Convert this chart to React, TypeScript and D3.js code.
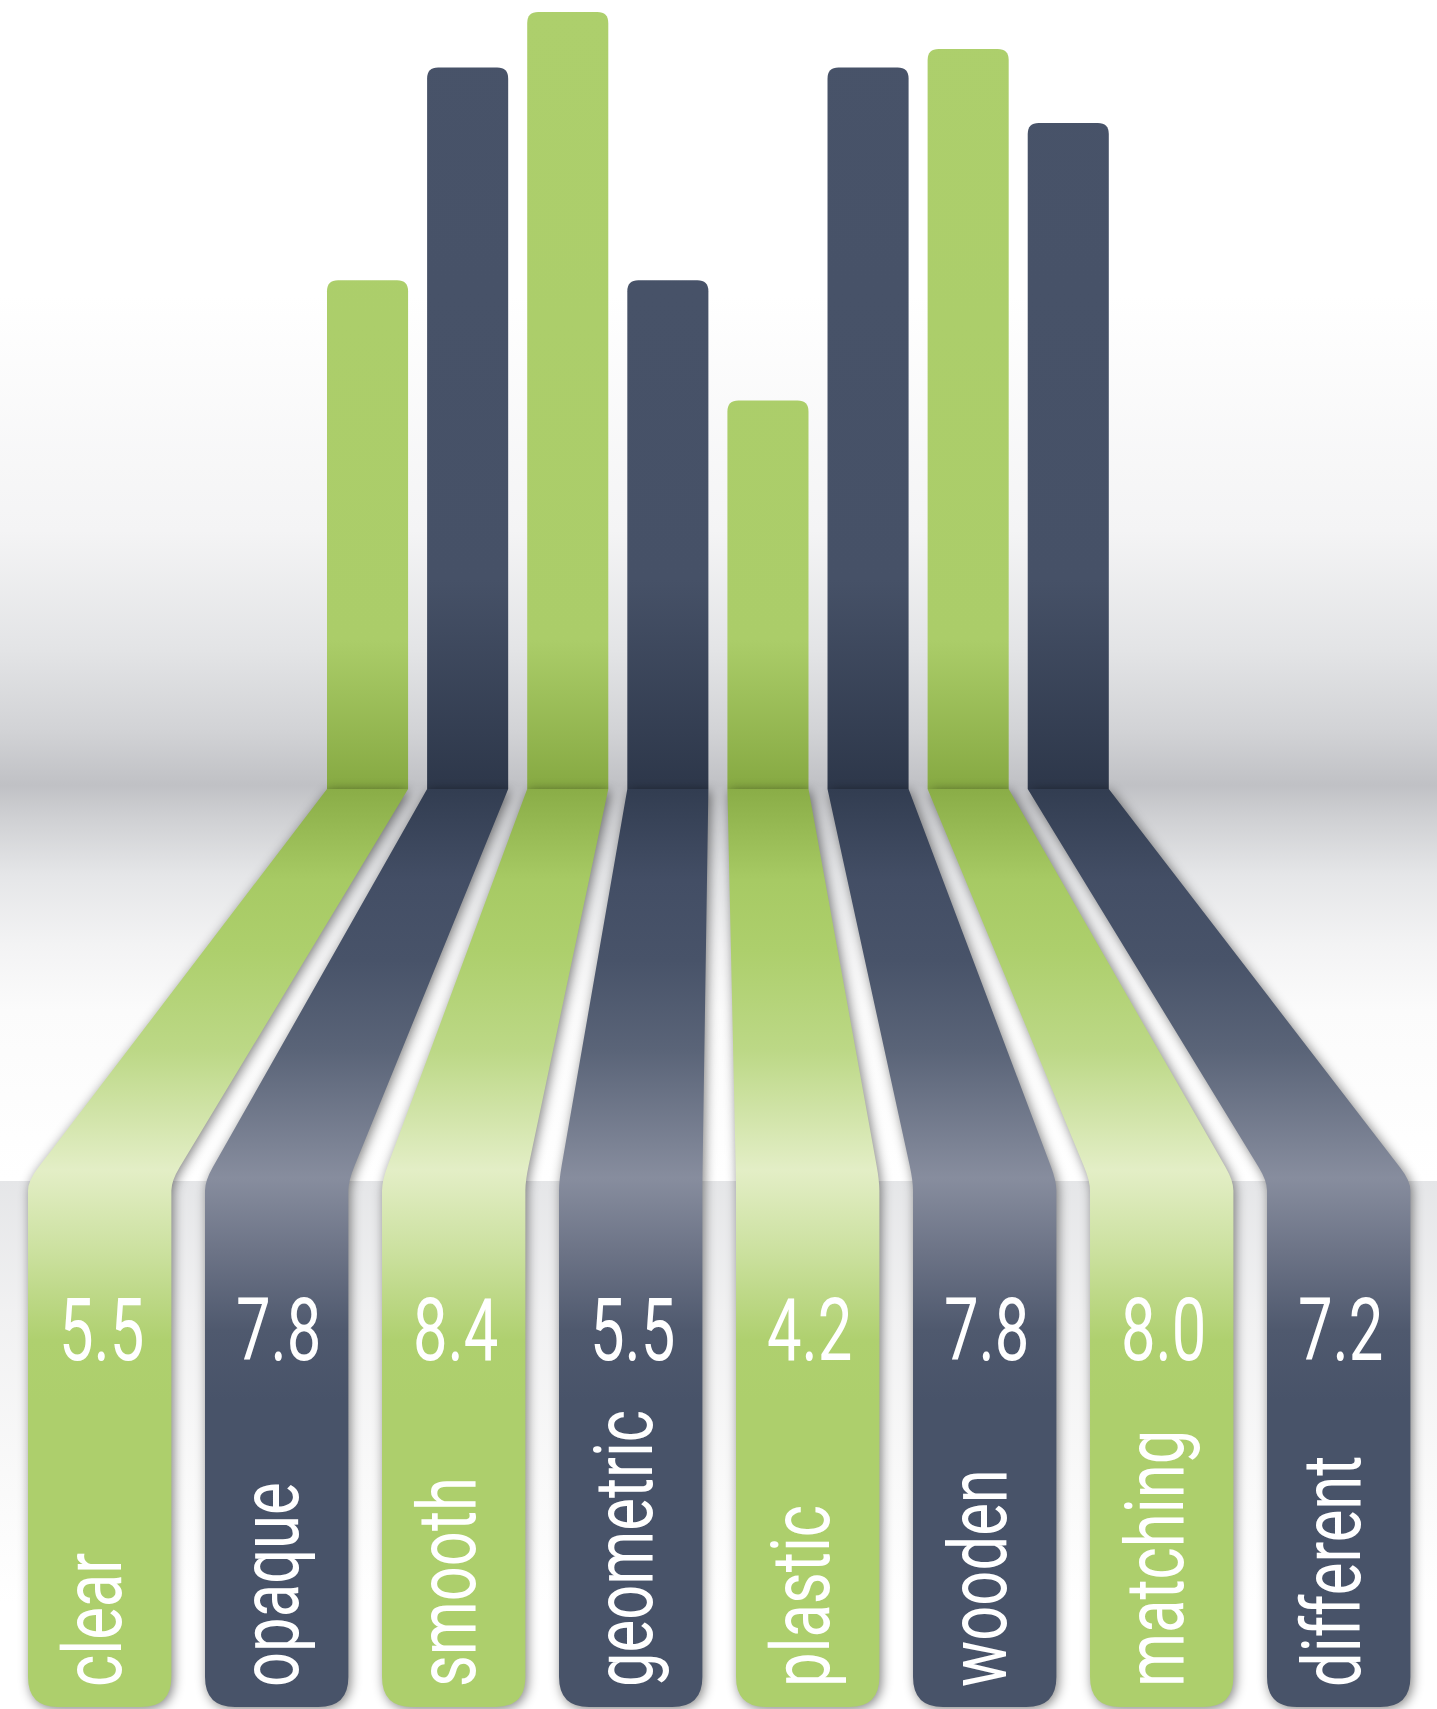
import React from "react";
import * as d3 from "d3";

const categories = ["clear", "opaque", "smooth", "geometric", "plastic", "wooden", "matching", "different"];
const values = [5.5, 7.8, 8.4, 5.5, 4.2, 7.8, 8.0, 7.2];
const seriesOf = ["green", "navy", "green", "navy", "green", "navy", "green", "navy"];
const valueLabels = ["5.5", "7.8", "8.4", "5.5", "4.2", "7.8", "8.0", "7.2"];

const W = 1437;
const H = 1709;
const BASE_Y = 789;
const FLOOR_Y = 1181;
const TAB_BOTTOM = 1707;

export default function App() {
  const xTop = d3.scaleBand<string>().domain(categories).range([327, 1108.8]).paddingInner(0.19).paddingOuter(0);
  const xTab = d3.scaleBand<string>().domain(categories).range([28, 1410.4]).paddingInner(0.19).paddingOuter(0);
  const y = d3.scaleLinear().domain([0, 8.4]).range([BASE_Y, 12]);

  const topBar = (x0: number, x1: number, yt: number) => {
    const r = 11;
    const p = d3.path();
    p.moveTo(x0, BASE_Y);
    p.lineTo(x0, yt + r);
    p.quadraticCurveTo(x0, yt, x0 + r, yt);
    p.lineTo(x1 - r, yt);
    p.quadraticCurveTo(x1, yt, x1, yt + r);
    p.lineTo(x1, BASE_Y);
    p.closePath();
    return p.toString();
  };

  const ribbon = (xu0: number, xu1: number, xl0: number, xl1: number) => {
    const k = 16;
    const r = 30;
    const back = (xa: number, xb: number) => {
      const dx = xb - xa;
      const dy = FLOOR_Y - BASE_Y;
      const len = Math.hypot(dx, dy);
      return [xb - (dx / len) * k, FLOOR_Y - (dy / len) * k];
    };
    const [lx, ly] = back(xu0, xl0);
    const [rx, ry] = back(xu1, xl1);
    const p = d3.path();
    p.moveTo(xu0, BASE_Y);
    p.lineTo(lx, ly);
    p.quadraticCurveTo(xl0, FLOOR_Y, xl0, FLOOR_Y + k * 0.6);
    p.lineTo(xl0, TAB_BOTTOM - r);
    p.quadraticCurveTo(xl0, TAB_BOTTOM, xl0 + r, TAB_BOTTOM);
    p.lineTo(xl1 - r, TAB_BOTTOM);
    p.quadraticCurveTo(xl1, TAB_BOTTOM, xl1, TAB_BOTTOM - r);
    p.lineTo(xl1, FLOOR_Y + k * 0.6);
    p.quadraticCurveTo(xl1, FLOOR_Y, rx, ry);
    p.lineTo(xu1, BASE_Y);
    p.closePath();
    return p.toString();
  };

  const font = "Roboto, 'Liberation Sans', sans-serif";
  const ribbons = categories.map((c, i) => {
    const xu0 = xTop(c)!;
    const xu1 = xu0 + xTop.bandwidth();
    const xl0 = xTab(c)!;
    const xl1 = xl0 + xTab.bandwidth();
    return { c, i, xu0, xu1, xl0, xl1, s: seriesOf[i] };
  });

  const g = (offsetY: number) => (offsetY - BASE_Y) / (H - BASE_Y);

  return (
    <svg width={W} height={H} style={{ position: "absolute", left: 0, top: 0, display: "block" }}>
      <defs>
        <linearGradient id="bgTop" gradientUnits="userSpaceOnUse" x1="0" y1="0" x2="0" y2={FLOOR_Y}>
          <stop offset={0} stopColor="#ffffff" />
          <stop offset={295 / FLOOR_Y} stopColor="#ffffff" />
          <stop offset={530 / FLOOR_Y} stopColor="#f4f4f5" />
          <stop offset={650 / FLOOR_Y} stopColor="#e3e4e6" />
          <stop offset={730 / FLOOR_Y} stopColor="#d2d3d6" />
          <stop offset={785 / FLOOR_Y} stopColor="#c0c1c5" />
          <stop offset={815 / FLOOR_Y} stopColor="#cecfd2" />
          <stop offset={875 / FLOOR_Y} stopColor="#e5e6e8" />
          <stop offset={945 / FLOOR_Y} stopColor="#f3f3f4" />
          <stop offset={1010 / FLOOR_Y} stopColor="#fbfbfb" />
          <stop offset={1} stopColor="#ffffff" />
        </linearGradient>
        <linearGradient id="bgFloor" gradientUnits="userSpaceOnUse" x1="0" y1={FLOOR_Y} x2="0" y2={H}>
          <stop offset={0} stopColor="#e5e6e8" />
          <stop offset={0.25} stopColor="#f1f1f2" />
          <stop offset={0.55} stopColor="#f9f9f9" />
          <stop offset={0.8} stopColor="#ffffff" />
          <stop offset={1} stopColor="#ffffff" />
        </linearGradient>
        <linearGradient id="topGreen" gradientUnits="userSpaceOnUse" x1="0" y1="0" x2="0" y2={BASE_Y}>
          <stop offset={0} stopColor="#adcf6c" />
          <stop offset={640 / BASE_Y} stopColor="#abcd69" />
          <stop offset={1} stopColor="#86a942" />
        </linearGradient>
        <linearGradient id="topNavy" gradientUnits="userSpaceOnUse" x1="0" y1="0" x2="0" y2={BASE_Y}>
          <stop offset={0} stopColor="#485369" />
          <stop offset={580 / BASE_Y} stopColor="#465167" />
          <stop offset={1} stopColor="#2d374a" />
        </linearGradient>
        <linearGradient id="lowGreen" gradientUnits="userSpaceOnUse" x1="0" y1={BASE_Y} x2="0" y2={H}>
          <stop offset={0} stopColor="#8aad47" />
          <stop offset={g(880)} stopColor="#a7ca64" />
          <stop offset={g(950)} stopColor="#adcf6c" />
          <stop offset={g(1050)} stopColor="#bcd886" />
          <stop offset={g(1170)} stopColor="#e3eec6" />
          <stop offset={g(1250)} stopColor="#cce1a0" />
          <stop offset={g(1340)} stopColor="#afd06f" />
          <stop offset={g(1400)} stopColor="#adcf6c" />
          <stop offset={1} stopColor="#adcf6c" />
        </linearGradient>
        <linearGradient id="lowNavy" gradientUnits="userSpaceOnUse" x1="0" y1={BASE_Y} x2="0" y2={H}>
          <stop offset={0} stopColor="#323d51" />
          <stop offset={g(880)} stopColor="#434e65" />
          <stop offset={g(960)} stopColor="#485369" />
          <stop offset={g(1050)} stopColor="#5a6478" />
          <stop offset={g(1178)} stopColor="#878d9e" />
          <stop offset={g(1250)} stopColor="#6d7487" />
          <stop offset={g(1330)} stopColor="#4f596e" />
          <stop offset={g(1400)} stopColor="#485369" />
          <stop offset={1} stopColor="#485369" />
        </linearGradient>
        <filter id="shadowOnly" x="-30%" y="-10%" width="160%" height="130%">
          <feGaussianBlur in="SourceAlpha" stdDeviation="6" />
          <feOffset dx="2" dy="2" result="b" />
          <feComponentTransfer>
            <feFuncA type="linear" slope="0.5" />
          </feComponentTransfer>
        </filter>
      </defs>

      <rect x={0} y={0} width={W} height={FLOOR_Y} fill="url(#bgTop)" />
      <rect x={0} y={FLOOR_Y} width={W} height={H - FLOOR_Y} fill="url(#bgFloor)" />

      {ribbons.map((r) => (
        <path
          key={"top-" + r.c}
          d={topBar(r.xu0, r.xu1, y(values[r.i]))}
          fill={r.s === "green" ? "url(#topGreen)" : "url(#topNavy)"}
        />
      ))}

      <g filter="url(#shadowOnly)">
        {ribbons.map((r) => (
          <path key={"sh-" + r.c} d={ribbon(r.xu0, r.xu1, r.xl0, r.xl1)} fill="#000" />
        ))}
      </g>

      {ribbons.map((r) => (
        <path
          key={"rb-" + r.c}
          d={ribbon(r.xu0, r.xu1, r.xl0, r.xl1)}
          fill={r.s === "green" ? "url(#lowGreen)" : "url(#lowNavy)"}
        />
      ))}

      {ribbons.map((r) => (
        <text
          key={"v-" + r.c}
          transform={`translate(${r.xl0 + xTab.bandwidth() / 2 + 2},${1360}) scale(0.7,1)`}
          textAnchor="middle"
          fill="#ffffff"
          fontFamily={font}
          fontWeight={400}
          fontSize={88}
        >
          {valueLabels[r.i]}
        </text>
      ))}

      {ribbons.map((r) => (
        <text
          key={"c-" + r.c}
          transform={`translate(${r.xl0 + 93},${1687}) rotate(-90) scale(0.76,1)`}
          textAnchor="start"
          fill="#ffffff"
          fontFamily={font}
          fontWeight={400}
          fontSize={81}
        >
          {r.c}
        </text>
      ))}
    </svg>
  );
}
